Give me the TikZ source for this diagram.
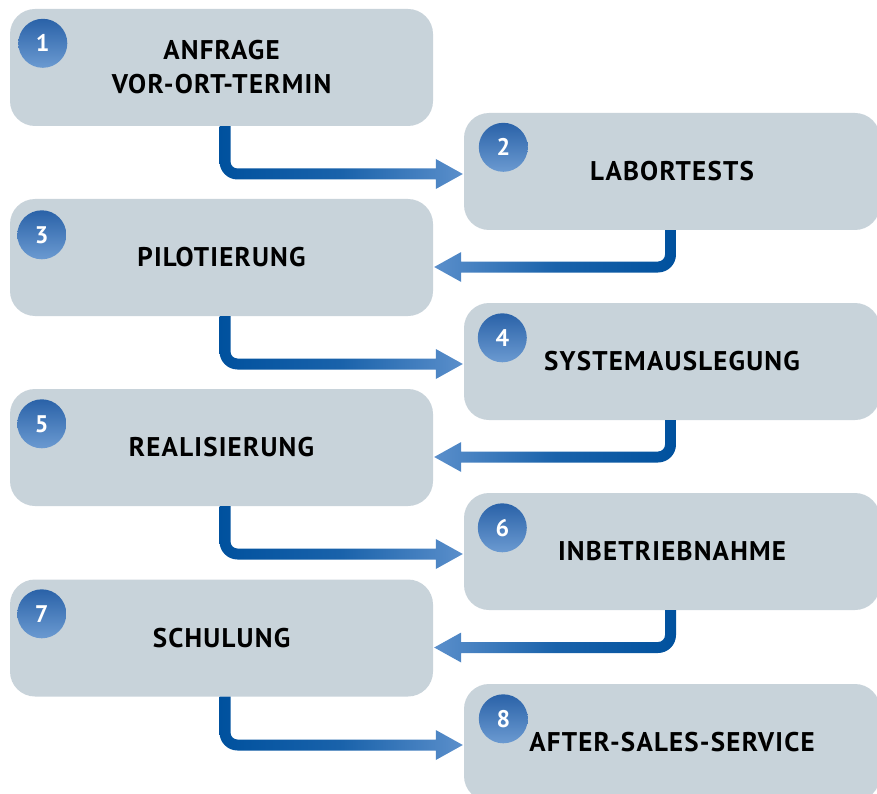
\documentclass[tikz,border=0pt]{standalone}
\usepackage{fontspec}
\setmainfont{PT Sans}
\usetikzlibrary{calc}
\definecolor{boxfill}{HTML}{C8D3DA}
\definecolor{flowdark}{HTML}{00519E}
\definecolor{flowlight}{HTML}{5B8FCB}
\definecolor{circtop}{HTML}{2A62A8}
\definecolor{circbot}{HTML}{6B9AD1}
\tikzset{
  stepbox/.style={fill=boxfill, rounded corners=25pt, minimum width=423pt, minimum height=117pt,
    inner sep=0pt, align=center, font=\fontsize{27}{34}\selectfont\bfseries\addfontfeature{LetterSpace=4.5}},
  stepboxR/.style={stepbox, minimum width=416pt},
  numcirc/.style={circle, minimum size=49pt, inner sep=0pt, top color=circtop, bottom color=circbot,
    text=white, font=\fontsize{24}{24}\selectfont\bfseries},
  flowR/.style={left color=flowdark, right color=flowlight, middle color=flowdark!72!flowlight},
  flowL/.style={right color=flowdark, left color=flowlight, middle color=flowdark!72!flowlight},
}
\newcommand\rightflow[2]{%
  \shade[flowR] let \p1=(#1.south), \p2=(#2.west) in
    (\x1-2pt,\y1) -- (\x1-2pt,\y2+10pt) arc[start angle=180,end angle=270,radius=18pt]
    -- (\x2-28pt,\y2-8pt) -- (\x2-28pt,\y2-17.5pt) -- (\x2-1pt,\y2-2.5pt)
    -- (\x2-28pt,\y2+12.5pt) -- (\x2-28pt,\y2+3pt) -- (\x1+16pt,\y2+3pt)
    arc[start angle=270,end angle=180,radius=7pt] -- (\x1+9pt,\y1) -- cycle;}
\newcommand\leftflow[2]{%
  \shade[flowL] let \p1=(#1.south), \p2=(#2.east) in
    (\x1+4pt,\y1) -- (\x1+4pt,\y2+3pt) arc[start angle=0,end angle=-90,radius=18pt]
    -- (\x2+28pt,\y2-15pt) -- (\x2+28pt,\y2-24.5pt) -- (\x2+1pt,\y2-9.5pt)
    -- (\x2+28pt,\y2+5.5pt) -- (\x2+28pt,\y2-4pt) -- (\x1-14pt,\y2-4pt)
    arc[start angle=270,end angle=360,radius=7pt] -- (\x1-7pt,\y1) -- cycle;}
\begin{document}
\begin{tikzpicture}[x=1pt,y=1pt]
\useasboundingbox (0,0) rectangle (877,-794);
% boxes
\node[stepbox]  (b1) at (221.5,-67.5) {ANFRAGE\\VOR-ORT-TERMIN};
\node[stepboxR] (b2) at (672,-171.5) {LABORTESTS};
\node[stepbox]  (b3) at (221.5,-257.5) {PILOTIERUNG};
\node[stepboxR] (b4) at (672,-361.5) {SYSTEMAUSLEGUNG};
\node[stepbox]  (b5) at (221.5,-447.5) {REALISIERUNG};
\node[stepboxR] (b6) at (672,-551.5) {INBETRIEBNAHME};
\node[stepbox]  (b7) at (221.5,-638) {SCHULUNG};
\node[stepboxR] (b8) at (672,-742.5) {AFTER-SALES-SERVICE};
% numbers
\node[numcirc] (n1) at ($(b1.north west)+(33,-34.5)$) {1};
\node[numcirc] (n2) at ($(b2.north west)+(39.5,-34.5)$) {2};
\node[numcirc] (n3) at ($(b3.north west)+(32,-36)$) {3};
\node[numcirc] (n4) at ($(b4.north west)+(38.5,-35)$) {4};
\node[numcirc] (n5) at ($(b5.north west)+(32,-35)$) {5};
\node[numcirc] (n6) at ($(b6.north west)+(38.5,-35)$) {6};
\node[numcirc] (n7) at ($(b7.north west)+(32,-34.5)$) {7};
\node[numcirc] (n8) at ($(b8.north west)+(39.5,-35)$) {8};
% connectors
\rightflow{b1}{b2}
\leftflow{b2}{b3}
\rightflow{b3}{b4}
\leftflow{b4}{b5}
\rightflow{b5}{b6}
\leftflow{b6}{b7}
\rightflow{b7}{b8}
\end{tikzpicture}
\end{document}
